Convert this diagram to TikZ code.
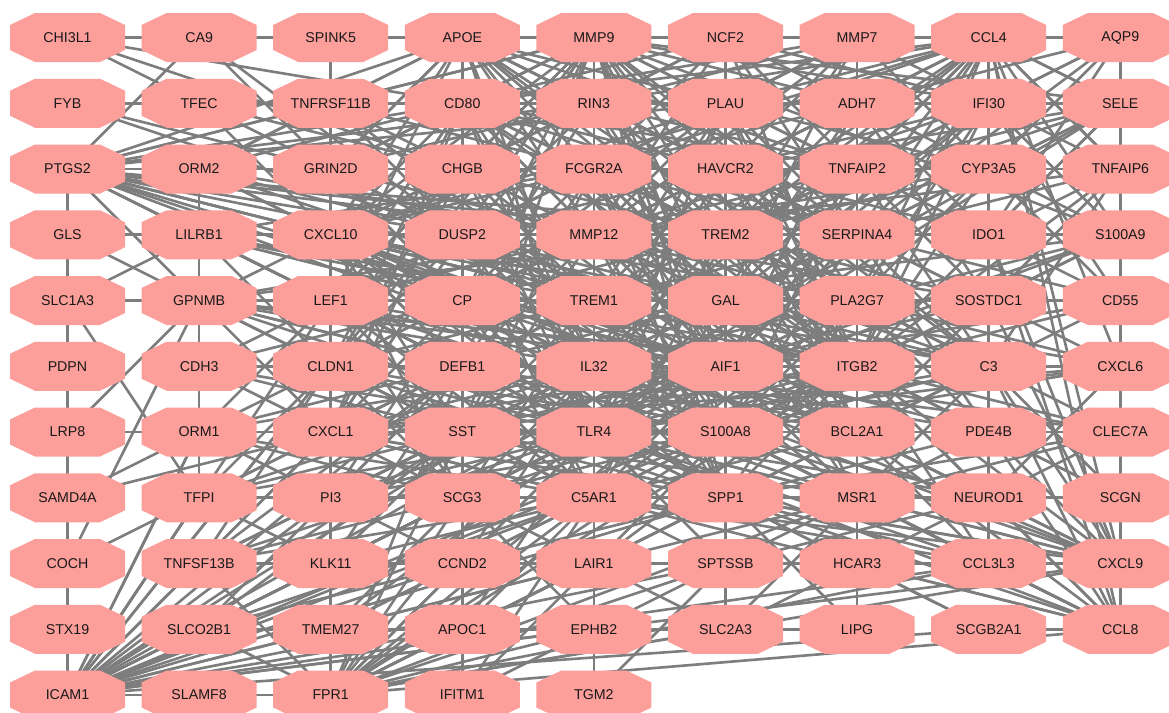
\documentclass[tikz,border=0pt]{standalone}
\usepackage{fontspec}
\setmainfont{Liberation Sans}
\usetikzlibrary{backgrounds}
\definecolor{gfill}{RGB}{252,158,154}
\definecolor{gedge}{RGB}{125,125,125}
\definecolor{gtext}{RGB}{25,25,25}
\tikzset{
  gnode/.style={draw=none,inner sep=0pt,minimum width=115pt,minimum height=49pt,
    font=\fontsize{14.2pt}{17pt}\selectfont,text=gtext},
  gedgeline/.style={draw=gedge,line width=2.6pt}
}
\newcommand\gn[3]{%
  \pgfmathsetmacro\gx{67.5+131.6*(#1-1)}%
  \pgfmathsetmacro\gy{37.5+65.75*(#2-1)}%
  \fill[gfill,shift={(\gx,\gy)}] (-57.5,-12.5) -- (-32.5,-24.5) -- (32.5,-24.5) -- (57.5,-12.5)
    -- (57.5,12.5) -- (32.5,24.5) -- (-32.5,24.5) -- (-57.5,12.5) -- cycle;
  \node[gnode] (#3) at (\gx,\gy) {#3};}
\begin{document}
\begin{tikzpicture}[x=1pt,y=-1pt]
\useasboundingbox (0,0) rectangle (1169,712);
\gn{1}{1}{CHI3L1}\gn{2}{1}{CA9}\gn{3}{1}{SPINK5}\gn{4}{1}{APOE}\gn{5}{1}{MMP9}\gn{6}{1}{NCF2}\gn{7}{1}{MMP7}\gn{8}{1}{CCL4}\gn{9}{1}{AQP9}
\gn{1}{2}{FYB}\gn{2}{2}{TFEC}\gn{3}{2}{TNFRSF11B}\gn{4}{2}{CD80}\gn{5}{2}{RIN3}\gn{6}{2}{PLAU}\gn{7}{2}{ADH7}\gn{8}{2}{IFI30}\gn{9}{2}{SELE}
\gn{1}{3}{PTGS2}\gn{2}{3}{ORM2}\gn{3}{3}{GRIN2D}\gn{4}{3}{CHGB}\gn{5}{3}{FCGR2A}\gn{6}{3}{HAVCR2}\gn{7}{3}{TNFAIP2}\gn{8}{3}{CYP3A5}\gn{9}{3}{TNFAIP6}
\gn{1}{4}{GLS}\gn{2}{4}{LILRB1}\gn{3}{4}{CXCL10}\gn{4}{4}{DUSP2}\gn{5}{4}{MMP12}\gn{6}{4}{TREM2}\gn{7}{4}{SERPINA4}\gn{8}{4}{IDO1}\gn{9}{4}{S100A9}
\gn{1}{5}{SLC1A3}\gn{2}{5}{GPNMB}\gn{3}{5}{LEF1}\gn{4}{5}{CP}\gn{5}{5}{TREM1}\gn{6}{5}{GAL}\gn{7}{5}{PLA2G7}\gn{8}{5}{SOSTDC1}\gn{9}{5}{CD55}
\gn{1}{6}{PDPN}\gn{2}{6}{CDH3}\gn{3}{6}{CLDN1}\gn{4}{6}{DEFB1}\gn{5}{6}{IL32}\gn{6}{6}{AIF1}\gn{7}{6}{ITGB2}\gn{8}{6}{C3}\gn{9}{6}{CXCL6}
\gn{1}{7}{LRP8}\gn{2}{7}{ORM1}\gn{3}{7}{CXCL1}\gn{4}{7}{SST}\gn{5}{7}{TLR4}\gn{6}{7}{S100A8}\gn{7}{7}{BCL2A1}\gn{8}{7}{PDE4B}\gn{9}{7}{CLEC7A}
\gn{1}{8}{SAMD4A}\gn{2}{8}{TFPI}\gn{3}{8}{PI3}\gn{4}{8}{SCG3}\gn{5}{8}{C5AR1}\gn{6}{8}{SPP1}\gn{7}{8}{MSR1}\gn{8}{8}{NEUROD1}\gn{9}{8}{SCGN}
\gn{1}{9}{COCH}\gn{2}{9}{TNFSF13B}\gn{3}{9}{KLK11}\gn{4}{9}{CCND2}\gn{5}{9}{LAIR1}\gn{6}{9}{SPTSSB}\gn{7}{9}{HCAR3}\gn{8}{9}{CCL3L3}\gn{9}{9}{CXCL9}
\gn{1}{10}{STX19}\gn{2}{10}{SLCO2B1}\gn{3}{10}{TMEM27}\gn{4}{10}{APOC1}\gn{5}{10}{EPHB2}\gn{6}{10}{SLC2A3}\gn{7}{10}{LIPG}\gn{8}{10}{SCGB2A1}\gn{9}{10}{CCL8}
\gn{1}{11}{ICAM1}\gn{2}{11}{SLAMF8}\gn{3}{11}{FPR1}\gn{4}{11}{IFITM1}\gn{5}{11}{TGM2}
\begin{pgfonlayer}{background}
\fill[white] (0,0) rectangle (1169,712);
\foreach \a/\bl in {
 CHI3L1/{CA9,CD80,CHGB,DUSP2},
 CA9/{SPINK5,PTGS2,DUSP2,CP},
 SPINK5/{APOE,TNFRSF11B},
 FYB/{TFEC,TNFRSF11B,GRIN2D,DUSP2},
 TFEC/{TNFRSF11B,CXCL10,CHGB},
 TNFRSF11B/{APOE,CD80,CHGB,DUSP2,MMP9,RIN3,FCGR2A,CXCL10,PTGS2,TREM1},
 PTGS2/{ORM2,GRIN2D,CHGB,FCGR2A,HAVCR2,ICAM1,CD80,RIN3,APOE,MMP9,PLAU,CXCL10,DUSP2,MMP12,TREM2,SERPINA4,CP,TREM1,GAL,IL32,TLR4,LEF1,ITGB2,AIF1,GPNMB,LILRB1,TNFAIP2},
 ORM2/{GRIN2D,CHGB,CXCL10,DUSP2,MMP12,TREM1,CP,FCGR2A,TNFRSF11B,CD80,ORM1},
 GRIN2D/{CXCL10,CHGB,CD80,DUSP2,FCGR2A,MMP12,CP,RIN3,APOE},
 GLS/{GPNMB,CXCL10},
 SLC1A3/{LILRB1,GPNMB,TFPI},
 LRP8/{ORM1,GPNMB},
 SAMD4A/{ORM1,CXCL1},
 COCH/{GPNMB,TFPI},
 LILRB1/{GPNMB,CXCL10,DUSP2,MMP12,TREM1,CP,LEF1,FCGR2A,TREM2,AIF1,ITGB2,TLR4,CLDN1},
 GPNMB/{CDH3,LEF1,CP,CXCL1,SST,TLR4,IL32,DEFB1,TREM1,CLDN1,AIF1,TREM2,CXCL10,MMP12,ITGB2,S100A8},
 CDH3/{ORM1,CLDN1,CXCL1,DEFB1,SST,TLR4,IL32,LEF1,CP},
 ORM1/{CXCL1,SST,TLR4,CLDN1,DEFB1,S100A8,IL32,TFPI,PI3,SCG3,C5AR1,LEF1,ICAM1},
 TFPI/{PI3,ICAM1,CXCL1,SST,TLR4,SCG3,CLDN1,DEFB1,IL32,KLK11},
 TNFSF13B/{KLK11,ICAM1,CXCL1,SST,TLR4,PI3,SCG3,C5AR1,IL32,CLDN1,DEFB1},
 SLCO2B1/{TMEM27,ICAM1,CCND2,SCG3,C5AR1,TLR4,PI3,SST},
 KLK11/{PI3,TMEM27,CCND2,CXCL1,SCG3,SST,TLR4,DEFB1,C5AR1},
 PI3/{SCG3,CXCL1,SST,TLR4,DEFB1,CLDN1,IL32,C5AR1,CCND2,AIF1,S100A8},
 TMEM27/{FPR1,APOC1,CCND2,SCG3,C5AR1,LAIR1,TLR4},
 ICAM1/{SLAMF8,FPR1,TFPI,ORM1,TNFSF13B,SLCO2B1,TMEM27,KLK11,PI3,APOC1,CCND2,SCG3,SST,CXCL1,CLDN1,LAIR1,C5AR1,TLR4,EPHB2,IL32,DEFB1,SPP1,S100A8,ITGB2,SPTSSB,CCL3L3,CXCL9,SCGB2A1,MMP9,SELE,CD80},
 FPR1/{APOC1,CCND2,SCG3,LAIR1,C5AR1,TLR4,EPHB2,SPP1,S100A8,SPTSSB,SLC2A3,CXCL1,SST,DEFB1,IL32,ITGB2,AIF1,CCL8,TNFSF13B,SLCO2B1,KLK11,C3,CXCL9,CCL3L3,MSR1},
 IFITM1/{APOC1,EPHB2,CCND2,LAIR1,C5AR1,SCG3},
 TGM2/{EPHB2,LAIR1,SPTSSB},
 APOC1/{EPHB2,CCND2,LAIR1,SCG3,C5AR1,SST,TLR4,DEFB1},
 CCND2/{LAIR1,SCG3,C5AR1,SST,TLR4,IL32,DEFB1,SPP1},
 LAIR1/{SPTSSB,EPHB2,C5AR1,SPP1,TLR4,S100A8,SCG3,MSR1,ITGB2,SLC2A3,CCL3L3},
 EPHB2/{SLC2A3,SPTSSB,SCG3,C5AR1},
 SLC2A3/{LIPG,SPTSSB,SPP1,MSR1,HCAR3},
 SPTSSB/{HCAR3,SPP1,C5AR1,MSR1,TLR4,S100A8,NEUROD1},
 HCAR3/{CCL3L3,LIPG,SPP1,MSR1,NEUROD1,BCL2A1,CCL8,SCGB2A1},
 LIPG/{MSR1,SPP1},
 SCGB2A1/{CCL8,SPP1},
 CCL3L3/{CXCL9,CCL8,NEUROD1,MSR1,SPP1,C5AR1,TLR4,S100A8,PDE4B,C3,BCL2A1,ITGB2},
 CXCL9/{CCL8,NEUROD1,PDE4B,C3,CLEC7A,BCL2A1,ITGB2,MSR1,S100A8,TLR4,SPP1,C5AR1,CXCL10,IDO1,CCL4,CXCL1,IL32,AIF1,CXCL6,SOSTDC1},
 CCL8/{AQP9,NEUROD1,PDE4B,C3,MSR1,SPP1,TLR4,ITGB2,CXCL10,IDO1,CCL4,CXCL1,S100A8,BCL2A1,CLEC7A,IL32,CXCL6},
 SCGN/{NEUROD1,C3,PDE4B,ITGB2},
 CLEC7A/{PDE4B,ITGB2,TLR4,S100A8,C3,BCL2A1,SPP1,NEUROD1,AIF1,IL32,MSR1},
 CXCL6/{C3,ITGB2,AIF1,IL32,CXCL1,S100A8,TLR4,SOSTDC1,NEUROD1,PLA2G7,CXCL10},
 CD55/{SOSTDC1,PLA2G7,GAL,C3,ITGB2,IDO1,TREM1,SERPINA4,AIF1},
 S100A9/{S100A8,TLR4,ITGB2,IDO1,SERPINA4,TREM2,MMP12,CCL4,TREM1,AIF1,CYP3A5,PLA2G7,SOSTDC1,IFI30},
 TNFAIP6/{CYP3A5,TNFAIP2,ITGB2,CCL4,IFI30,HAVCR2,IDO1,SERPINA4,SOSTDC1,MMP12,C3},
 SELE/{IFI30,ADH7,PLAU,MMP9,CCL4,TREM2,ITGB2,TLR4,CYP3A5,TNFAIP2,SERPINA4,IDO1,HAVCR2},
 AQP9/{CCL4,IFI30,CYP3A5,TNFAIP2,IDO1,ADH7,SERPINA4},
 CCL4/{MMP7,NCF2,IFI30,ADH7,PLAU,RIN3,CD80,SELE,CYP3A5,TNFAIP2,HAVCR2,FCGR2A,TREM2,SERPINA4,IDO1,TNFAIP6,MMP12,GAL,PLA2G7,SOSTDC1,ITGB2,AIF1,C3,CXCL6,TLR4,CXCL10,TREM1,CCL3L3,IL32},
 MMP7/{NCF2,ADH7,PLAU,RIN3,HAVCR2,TNFAIP2,IFI30,CYP3A5,TREM2,SERPINA4,MMP12,FCGR2A,GAL,CD80,DUSP2,APOE},
 NCF2/{MMP9,RIN3,PLAU,ADH7,HAVCR2,FCGR2A,CHGB,CD80,TREM2,MMP12,ITGB2,AIF1,TNFAIP2,IFI30,SERPINA4,GAL},
 MMP9/{APOE,CD80,RIN3,PLAU,CHGB,FCGR2A,HAVCR2,CXCL10,DUSP2,MMP12,TREM2,CP,TREM1,GAL,IL32,AIF1,ITGB2,TLR4,S100A8,SPP1,SST,IFI30,TNFAIP2,SERPINA4,PLA2G7,C3,ADH7,DEFB1,CXCL1,LEF1,S100A9,GRIN2D},
 APOE/{CD80,RIN3,CHGB,GRIN2D,FCGR2A,CXCL10,DUSP2,CP,TREM2,MMP12,TLR4,ITGB2,IL32,PLA2G7,SERPINA4,ORM2,AIF1,HAVCR2,SST,PLAU,TNFAIP2,LEF1,DEFB1},
 CD80/{RIN3,PLAU,CHGB,FCGR2A,HAVCR2,CXCL10,DUSP2,MMP12,TREM2,CP,TREM1,GAL,IL32,AIF1,ITGB2,TLR4,LEF1,DEFB1,SERPINA4,ADH7,TNFAIP2,CLDN1,CXCL1},
 RIN3/{PLAU,CHGB,FCGR2A,HAVCR2,CXCL10,DUSP2,MMP12,TREM2,CP,TREM1,GAL,IL32,AIF1,ITGB2,TNFAIP2,SERPINA4,PLA2G7,ADH7,TLR4},
 PLAU/{ADH7,FCGR2A,HAVCR2,TNFAIP2,MMP12,TREM2,SERPINA4,GAL,TREM1,PLA2G7,AIF1,ITGB2,IL32,TLR4,CXCL10,DUSP2,CP,S100A8,BCL2A1,IFI30,CYP3A5},
 ADH7/{HAVCR2,TNFAIP2,IFI30,SERPINA4,TREM2,GAL,PLA2G7,ITGB2,MMP12,FCGR2A,CYP3A5,IDO1,AIF1,SOSTDC1},
 IFI30/{CYP3A5,HAVCR2,TNFAIP2,TREM2,GAL,ITGB2,AIF1,SERPINA4,PLA2G7,CD55,MMP12,TLR4},
 CYP3A5/{IDO1,TNFAIP2,HAVCR2,SERPINA4,TREM2,PLA2G7,ITGB2,GAL,CD55,C3,MMP12},
 CHGB/{FCGR2A,CXCL10,DUSP2,MMP12,CP,TREM1,LEF1,IL32,DEFB1,AIF1,TREM2,GAL,SST,TLR4,ITGB2,HAVCR2,CLDN1,CXCL1},
 FCGR2A/{HAVCR2,DUSP2,MMP12,TREM2,SERPINA4,CP,TREM1,GAL,PLA2G7,DEFB1,IL32,AIF1,ITGB2,SST,TLR4,S100A8,BCL2A1,CXCL10,TNFAIP2,C3,SPP1},
 HAVCR2/{TNFAIP2,MMP12,TREM2,SERPINA4,TREM1,GAL,PLA2G7,IL32,AIF1,ITGB2,C3,TLR4,S100A8,BCL2A1,DUSP2,CP,SOSTDC1,IDO1},
 TNFAIP2/{TREM2,SERPINA4,GAL,PLA2G7,AIF1,ITGB2,C3,IDO1,SOSTDC1,TREM1,MMP12,BCL2A1,S100A8},
 CXCL10/{DUSP2,MMP12,LEF1,CP,TREM1,CLDN1,DEFB1,IL32,AIF1,CXCL1,SST,TLR4,S100A8,ITGB2,GAL,TREM2,IDO1,SPP1,C5AR1,SCG3,PI3,C3,BCL2A1},
 DUSP2/{MMP12,TREM2,LEF1,CP,TREM1,GAL,CLDN1,DEFB1,IL32,AIF1,CXCL1,SST,TLR4,S100A8,ITGB2,PLA2G7,SERPINA4,SCG3,C5AR1},
 MMP12/{TREM2,SERPINA4,CP,TREM1,GAL,PLA2G7,DEFB1,IL32,AIF1,ITGB2,SST,TLR4,S100A8,BCL2A1,C3,LEF1,CLDN1,SPP1,C5AR1,SOSTDC1},
 TREM2/{SERPINA4,CP,TREM1,GAL,PLA2G7,IL32,AIF1,ITGB2,TLR4,S100A8,BCL2A1,C3,SOSTDC1,IDO1,DEFB1,SPP1,C5AR1,MSR1},
 SERPINA4/{IDO1,TREM1,GAL,PLA2G7,SOSTDC1,AIF1,ITGB2,C3,BCL2A1,S100A8,TLR4,IL32,PDE4B},
 IDO1/{SOSTDC1,S100A9},
 LEF1/{CP,TREM1,CLDN1,DEFB1,IL32,CXCL1,SST,TLR4,AIF1,GAL,S100A8,SCG3,C5AR1,PI3},
 CP/{TREM1,GAL,PLA2G7,CLDN1,DEFB1,IL32,AIF1,ITGB2,CXCL1,SST,TLR4,S100A8,BCL2A1,SCG3,C5AR1,SPP1,PI3},
 TREM1/{GAL,PLA2G7,SOSTDC1,DEFB1,IL32,AIF1,ITGB2,C3,SST,TLR4,S100A8,BCL2A1,SCG3,C5AR1,SPP1,MSR1,CLDN1,CXCL1},
 GAL/{PLA2G7,SOSTDC1,IL32,AIF1,ITGB2,C3,TLR4,S100A8,BCL2A1,C5AR1,SPP1,MSR1,DEFB1,SST,PDE4B},
 PLA2G7/{SOSTDC1,AIF1,ITGB2,C3,TLR4,S100A8,BCL2A1,PDE4B,SPP1,MSR1,IL32,C5AR1},
 SOSTDC1/{C3,ITGB2,BCL2A1,PDE4B,AIF1,S100A8,NEUROD1},
 CLDN1/{DEFB1,IL32,CXCL1,SST,TLR4,AIF1,S100A8,SCG3,C5AR1,PI3,SPP1,ITGB2},
 DEFB1/{IL32,AIF1,ITGB2,CXCL1,SST,TLR4,S100A8,BCL2A1,SCG3,C5AR1,SPP1,PI3,MSR1},
 IL32/{AIF1,ITGB2,C3,SST,TLR4,S100A8,BCL2A1,SCG3,C5AR1,SPP1,MSR1,CXCL1,PDE4B},
 AIF1/{ITGB2,C3,TLR4,S100A8,BCL2A1,PDE4B,C5AR1,SPP1,MSR1,SST,SCG3,NEUROD1,CXCL1},
 ITGB2/{C3,TLR4,S100A8,BCL2A1,PDE4B,C5AR1,SPP1,MSR1,NEUROD1,SST,CXCL1,SCG3},
 C3/{PDE4B,BCL2A1,S100A8,TLR4,SPP1,MSR1,NEUROD1},
 PDE4B/{NEUROD1,MSR1,SPP1},
 NEUROD1/{CCL3L3,MSR1,SPP1},
 CXCL1/{SST,TLR4,S100A8,SCG3,C5AR1,SPP1,PI3,BCL2A1},
 SST/{TLR4,S100A8,SCG3,C5AR1,SPP1,PI3,BCL2A1,MSR1},
 TLR4/{S100A8,BCL2A1,PDE4B,SCG3,C5AR1,SPP1,MSR1,NEUROD1},
 S100A8/{BCL2A1,PDE4B,C5AR1,SPP1,MSR1,NEUROD1,SCG3},
 BCL2A1/{PDE4B,C5AR1,SPP1,MSR1,NEUROD1},
 SCG3/{C5AR1,SPP1,CCND2},
 C5AR1/{SPP1,MSR1},
 SPP1/{MSR1}}{\foreach \b in \bl {\draw[gedgeline] (\a.center) -- (\b.center);}}
\end{pgfonlayer}
\end{tikzpicture}
\end{document}
